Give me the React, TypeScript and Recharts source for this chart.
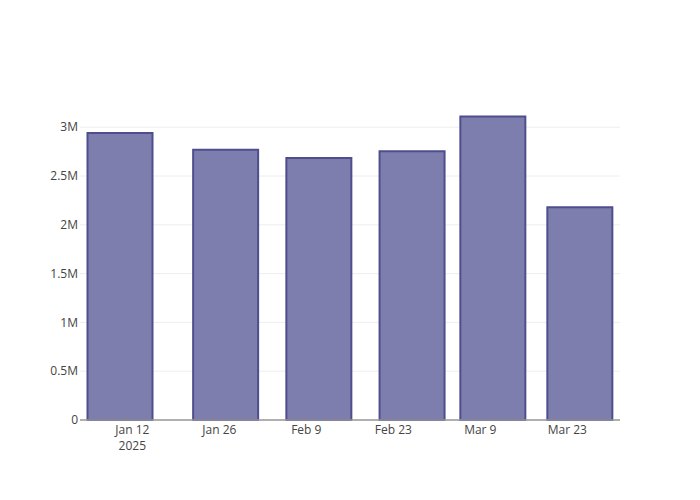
import { Bar, BarChart, CartesianGrid, XAxis, YAxis } from "recharts";

const DAY = 86400000;
const day = (s: string) => Date.parse(s + "T00:00:00Z");

const weekDates = ["2025-01-10", "2025-01-27", "2025-02-11", "2025-02-26", "2025-03-11", "2025-03-25"];
const totals = [2940000, 2770000, 2685000, 2753000, 3110000, 2180000];

const xTickDates = ["2025-01-12", "2025-01-26", "2025-02-09", "2025-02-23", "2025-03-09", "2025-03-23"];
const yTicks = [0, 500000, 1000000, 1500000, 2000000, 2500000, 3000000];

const data = weekDates.map((d, i) => ({ t: day(d), total: totals[i] }));
const xTicks = xTickDates.map(day);
const xDomain: [number, number] = [day("2025-01-12") - 8.42 * DAY, day("2025-01-12") + 78.48 * DAY];

const MONTHS = ["Jan", "Feb", "Mar", "Apr", "May", "Jun", "Jul", "Aug", "Sep", "Oct", "Nov", "Dec"];
const FONT = '"Open Sans", verdana, arial, sans-serif';

const formatY = (v: number) => (v === 0 ? "0" : `${v / 1000000}M`);

const DateTick = (props: any) => {
  const { x, y, payload, index } = props;
  const d = new Date(payload.value);
  const label = `${MONTHS[d.getUTCMonth()]} ${d.getUTCDate()}`;
  return (
    <g>
      <text x={x} y={y + 14} textAnchor="middle" fill="#444" fontSize={12} fontFamily={FONT}>
        {label}
      </text>
      {index === 0 && (
        <text x={x} y={y + 30} textAnchor="middle" fill="#444" fontSize={12} fontFamily={FONT}>
          {d.getUTCFullYear()}
        </text>
      )}
    </g>
  );
};

export default function App() {
  return (
    <div style={{ position: "absolute", left: 0, top: 0, width: 700, height: 500, background: "#fff" }}>
      <BarChart width={700} height={500} data={data} margin={{ top: 100, right: 80, left: 0, bottom: 0 }}>
        <CartesianGrid horizontal vertical={false} stroke="#eee" strokeWidth={1} syncWithTicks />
        <XAxis
          dataKey="t"
          type="number"
          scale="linear"
          domain={xDomain}
          ticks={xTicks}
          allowDataOverflow
          height={80}
          tickLine={false}
          tickSize={0}
          tickMargin={0}
          axisLine={{ stroke: "#999", strokeWidth: 1.5 }}
          tick={<DateTick />}
          interval={0}
        />
        <YAxis
          type="number"
          domain={[0, 3279000]}
          ticks={yTicks}
          width={80}
          axisLine={false}
          tickLine={false}
          tickSize={2}
          tickMargin={0}
          tickFormatter={formatY}
          tick={{ fill: "#444", fontSize: 12, fontFamily: FONT }}
          interval={0}
        />
        <Bar
          dataKey="total"
          barSize={65}
          fill="#7e7eae"
          stroke="#4e4e8e"
          strokeWidth={2}
          isAnimationActive={false}
        />
      </BarChart>
    </div>
  );
}
